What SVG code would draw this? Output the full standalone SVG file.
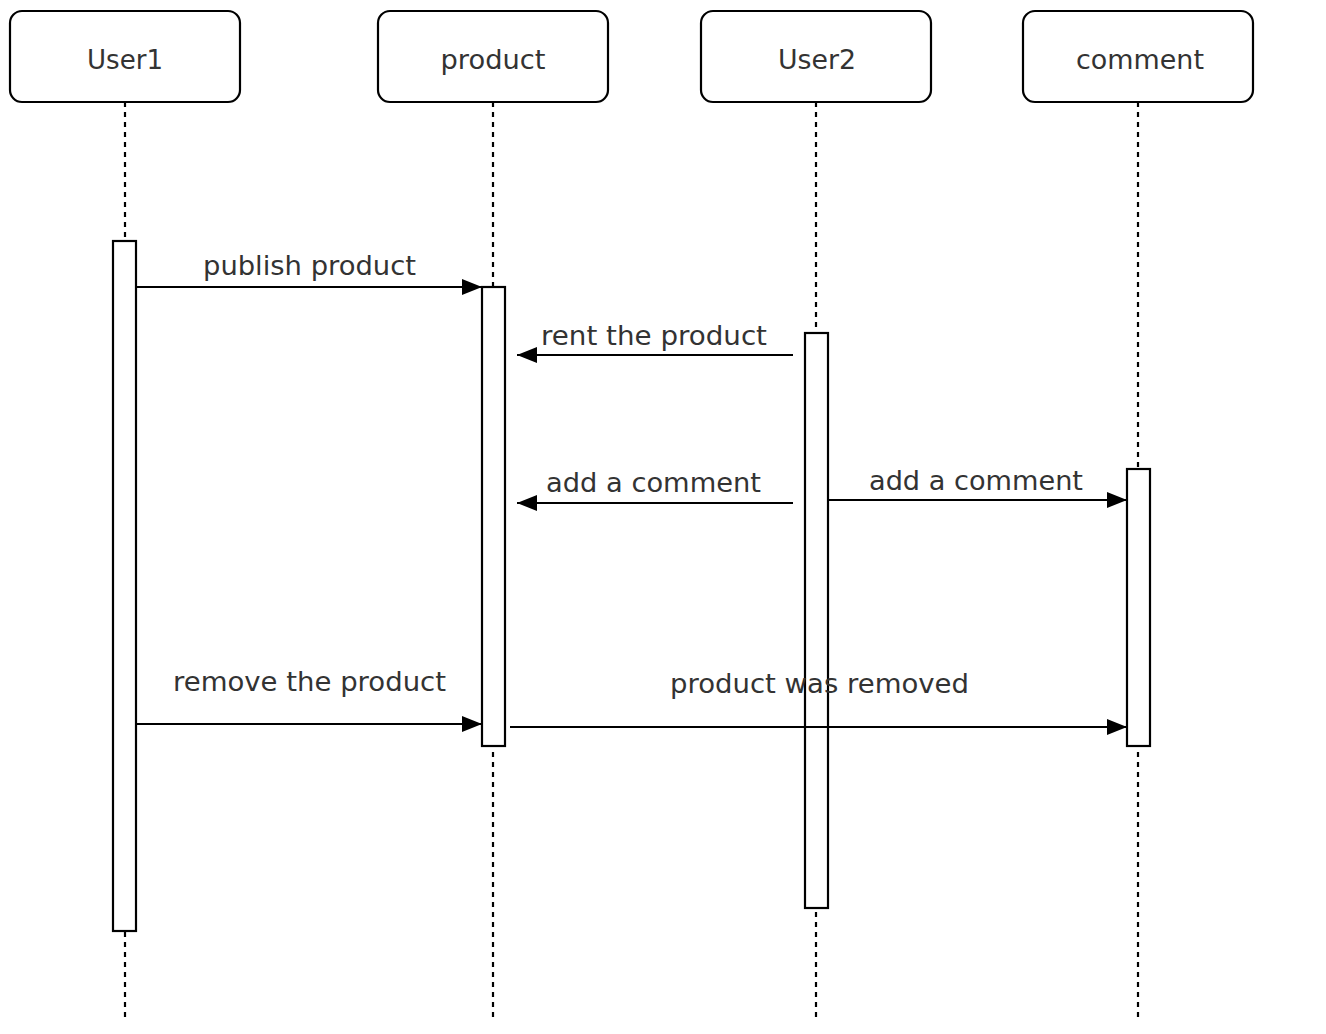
<svg xmlns="http://www.w3.org/2000/svg" width="1326" height="1034" viewBox="0 0 1326 1034">
<style>
.box{fill:#fff;stroke:#000;stroke-width:2.2}
.act{fill:#fff;stroke:#000;stroke-width:2.2}
.life{stroke:#000;stroke-width:2.2;stroke-dasharray:5 5;fill:none}
.msg{stroke:#000;stroke-width:2.2;fill:none;marker-end:url(#arr)}
text{font-family:"DejaVu Sans","Noto Sans",sans-serif;font-size:26px;fill:#333}
.c{text-anchor:middle}
</style>
<defs>
<marker id="arr" markerUnits="userSpaceOnUse" viewBox="0 0 20 16" refX="20" refY="8" markerWidth="20" markerHeight="16" orient="auto">
<path d="M0,0 L20,8 L0,16 Z" fill="#000"/>
</marker>
</defs>
<rect width="1326" height="1034" fill="#fff"/>
<g id="lifelines">
<line class="life" x1="125" y1="102" x2="125" y2="1022"/>
<line class="life" x1="493" y1="102" x2="493" y2="1022"/>
<line class="life" x1="816" y1="102" x2="816" y2="1022"/>
<line class="life" x1="1138" y1="102" x2="1138" y2="1022"/>
</g>
<g id="User1">
<rect class="box" x="10" y="11" width="230" height="91" rx="12"/>
<text class="c" x="125" y="69" textLength="76" lengthAdjust="spacingAndGlyphs">User1</text>
<rect class="act" x="113" y="241" width="23" height="690"/>
</g>
<g id="product">
<rect class="box" x="378" y="11" width="230" height="91" rx="12"/>
<text class="c" x="493" y="69" textLength="105" lengthAdjust="spacingAndGlyphs">product</text>
<rect class="act" x="482" y="287" width="23" height="459"/>
</g>
<g id="User2">
<rect class="box" x="701" y="11" width="230" height="91" rx="12"/>
<text class="c" x="817" y="69" textLength="78" lengthAdjust="spacingAndGlyphs">User2</text>
<rect class="act" x="805" y="333" width="23" height="575"/>
</g>
<g id="comment">
<rect class="box" x="1023" y="11" width="230" height="91" rx="12"/>
<text class="c" x="1140" y="69" textLength="128" lengthAdjust="spacingAndGlyphs">comment</text>
<rect class="act" x="1127" y="469" width="23" height="277"/>
</g>
<g id="connectors">
<line class="msg" x1="136" y1="287" x2="482" y2="287"/>
<line class="msg" x1="793" y1="355" x2="517" y2="355"/>
<line class="msg" x1="793" y1="503" x2="517" y2="503"/>
<line class="msg" x1="828" y1="500" x2="1127" y2="500"/>
<line class="msg" x1="136" y1="724" x2="482" y2="724"/>
<line class="msg" x1="510" y1="727" x2="1127" y2="727"/>
</g>
<g id="labels">
<text class="c" x="309.5" y="275" textLength="213" lengthAdjust="spacingAndGlyphs">publish product</text>
<text class="c" x="654" y="345" textLength="226" lengthAdjust="spacingAndGlyphs">rent the product</text>
<text class="c" x="653.5" y="492" textLength="215" lengthAdjust="spacingAndGlyphs">add a comment</text>
<text class="c" x="976" y="490" textLength="214" lengthAdjust="spacingAndGlyphs">add a comment</text>
<text class="c" x="309.5" y="691" textLength="273" lengthAdjust="spacingAndGlyphs">remove the product</text>
<text class="c" x="819.5" y="693" textLength="299" lengthAdjust="spacingAndGlyphs">product was removed</text>
</g>
</svg>
